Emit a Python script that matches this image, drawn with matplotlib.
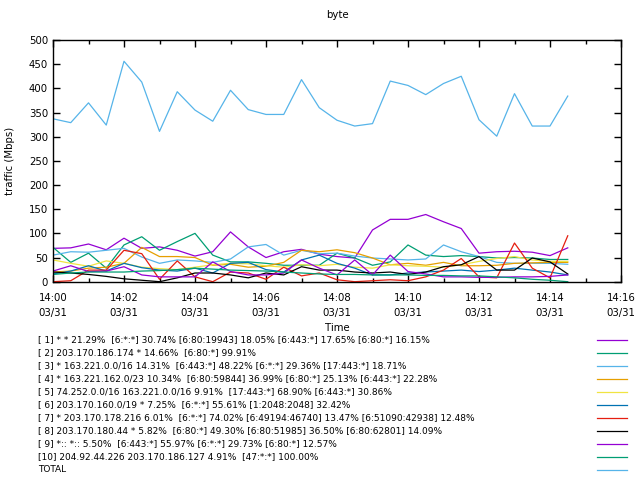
import numpy as np
import matplotlib
matplotlib.use('Agg')
import matplotlib.pyplot as plt
from matplotlib.lines import Line2D
from matplotlib.ticker import MultipleLocator, FuncFormatter

# muestras cada 30 s desde las 14:00 (en minutos)
minutos = np.arange(0, 15, 0.5)

s1 = [69, 70, 78, 66, 90, 69, 72, 65, 53, 62, 103, 72, 50, 62, 67, 57, 52, 49, 107, 129, 129, 139, 124, 110, 59, 62, 63, 61, 54, 70]
s2 = [71, 40, 59, 28, 76, 93, 65, 83, 100, 55, 41, 41, 38, 34, 34, 34, 59, 49, 34, 41, 76, 55, 52, 54, 52, 49, 50, 49, 46, 46]
s3 = [55, 62, 61, 65, 69, 51, 38, 45, 43, 40, 47, 72, 77, 55, 65, 58, 59, 53, 49, 47, 45, 47, 76, 62, 52, 40, 38, 38, 38, 36]
s4 = [20, 22, 28, 30, 38, 71, 52, 52, 50, 34, 36, 30, 32, 40, 65, 62, 66, 60, 49, 35, 38, 34, 40, 33, 33, 34, 38, 39, 40, 40]
s5 = [45, 38, 32, 43, 38, 30, 27, 25, 30, 35, 38, 37, 33, 30, 35, 33, 36, 30, 28, 35, 33, 32, 30, 35, 42, 48, 52, 45, 42, 42]
s6 = [16, 22, 33, 22, 38, 29, 24, 22, 28, 18, 38, 40, 25, 20, 45, 55, 38, 28, 14, 14, 18, 20, 22, 24, 21, 24, 28, 24, 20, 14]
s7 = [0, 2, 24, 24, 65, 58, 5, 43, 10, 0, 20, 18, 5, 30, 12, 18, 4, 0, 2, 4, 2, 10, 24, 48, 10, 8, 80, 28, 8, 95]
s8 = [20, 18, 15, 11, 6, 3, 0, 8, 18, 18, 14, 8, 18, 14, 31, 24, 24, 20, 18, 20, 15, 20, 31, 35, 52, 24, 24, 49, 41, 16]
s9 = [22, 33, 21, 22, 31, 14, 10, 10, 10, 41, 21, 14, 14, 18, 45, 28, 14, 45, 14, 55, 21, 16, 10, 10, 9, 9, 10, 10, 11, 14]
s10 = [15, 18, 20, 20, 20, 22, 23, 25, 28, 26, 24, 23, 22, 20, 18, 16, 15, 15, 14, 14, 14, 13, 13, 12, 12, 10, 8, 5, 3, 0]
total = [337, 329, 370, 324, 456, 413, 311, 393, 355, 332, 396, 356, 346, 346, 418, 360, 334, 322, 327, 415, 406, 387, 410, 425, 335, 301, 389, 322, 322, 384]

series = [s1, s2, s3, s4, s5, s6, s7, s8, s9, s10, total]

etiquetas = [
    '[ 1] * * 21.29%  [6:*:*] 30.74% [6:80:19943] 18.05% [6:443:*] 17.65% [6:80:*] 16.15%',
    '[ 2] 203.170.186.174 * 14.66%  [6:80:*] 99.91%',
    '[ 3] * 163.221.0.0/16 14.31%  [6:443:*] 48.22% [6:*:*] 29.36% [17:443:*] 18.71%',
    '[ 4] * 163.221.162.0/23 10.34%  [6:80:59844] 36.99% [6:80:*] 25.13% [6:443:*] 22.28%',
    '[ 5] 74.252.0.0/16 163.221.0.0/16 9.91%  [17:443:*] 68.90% [6:443:*] 30.86%',
    '[ 6] 203.170.160.0/19 * 7.25%  [6:*:*] 55.61% [1:2048:2048] 32.42%',
    '[ 7] * 203.170.178.216 6.01%  [6:*:*] 74.02% [6:49194:46740] 13.47% [6:51090:42938] 12.48%',
    '[ 8] 203.170.180.44 * 5.82%  [6:80:*] 49.30% [6:80:51985] 36.50% [6:80:62801] 14.09%',
    '[ 9] *:: *:: 5.50%  [6:443:*] 55.97% [6:*:*] 29.73% [6:80:*] 12.57%',
    '[10] 204.92.44.226 203.170.186.127 4.91%  [47:*:*] 100.00%',
    'TOTAL',
]

colores = ['#9400D3', '#009E73', '#56B4E9', '#E69F00', '#F0E442',
           '#0072B2', '#E51E10', '#000000', '#9400D3', '#009E73', '#56B4E9']

plt.rcParams['font.family'] = 'DejaVu Sans'

fig = plt.figure(figsize=(6.4, 4.8), dpi=100)
ax = fig.add_axes([53/640, 1 - 281.7/480, (621-53)/640, (281.7-40)/480])

for ys, c in zip(series, colores):
    ax.plot(minutos, ys, color=c, linewidth=0.9)

ax.set_xlim(0, 16)
ax.set_ylim(0, 500)
ax.xaxis.set_major_locator(MultipleLocator(2))
ax.xaxis.set_minor_locator(MultipleLocator(1))
ax.yaxis.set_major_locator(MultipleLocator(50))
ax.xaxis.set_major_formatter(FuncFormatter(lambda v, p: '14:%02d\n03/31' % int(v)))
ax.tick_params(which='both', direction='in', top=True, right=True, labelsize=7.3, width=1)
ax.tick_params(which='major', length=5)
ax.tick_params(which='minor', length=3)
ax.tick_params(axis='x', pad=8)
for lbl in ax.get_xticklabels():
    lbl.set_linespacing(1.6)
for sp in ax.spines.values():
    sp.set_linewidth(1)

ax.set_title('byte', fontsize=7.3, pad=16)
ax.set_ylabel('traffic (Mbps)', fontsize=7.3, labelpad=10)
ax.set_xlabel('Time', fontsize=7.3)
ax.xaxis.set_label_coords(0.5, (281.7 - 328) / 241.7)
ax.xaxis.label.set_va('center')

# leyenda: texto a la izquierda, muestra de linea a la derecha
for i, (lab, c) in enumerate(zip(etiquetas, colores)):
    y = 1 - (340 + 13*i)/480
    fig.text(38/640, y, lab, fontsize=6.5, va='center', ha='left')
    fig.add_artist(Line2D([597/640, 627/640], [y, y], color=c, linewidth=0.9,
                          transform=fig.transFigure))

fig.savefig('out.png', dpi=100)
